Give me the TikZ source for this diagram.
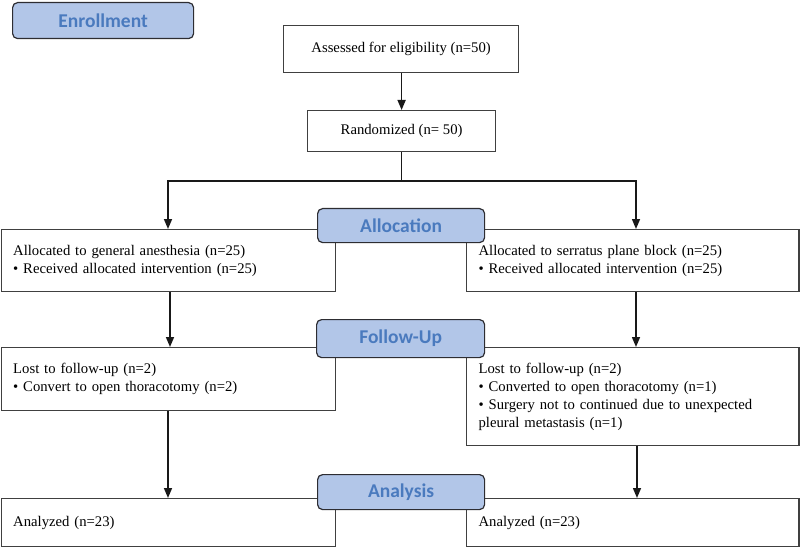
\documentclass[tikz,border=0pt]{standalone}
\usepackage{fontspec}
\setmainfont{Liberation Serif}
\newfontfamily\labelfont{Carlito}
\usetikzlibrary{arrows.meta}
\definecolor{boxline}{RGB}{64,64,64}
\definecolor{labfill}{RGB}{178,198,232}
\definecolor{labtext}{RGB}{74,122,190}
\definecolor{labline}{RGB}{45,45,50}
\begin{document}
\begin{tikzpicture}[x=1pt,y=-1pt,
  box/.style={draw=boxline, line width=1.2pt, fill=white, inner xsep=12pt, inner ysep=0pt,
    anchor=north west, align=left, font=\fontsize{14.7}{18}\selectfont},
  cbox/.style={draw=boxline, line width=1.2pt, fill=white, anchor=north west, align=center,
    inner sep=0pt, font=\fontsize{14.7}{18}\selectfont},
  lab/.style={draw=labline, line width=1.2pt, fill=labfill, rounded corners=5pt,
    anchor=north west, inner sep=0pt, text=labtext,
    font=\labelfont\bfseries\fontsize{19.5}{22}\selectfont},
  arr/.style={line width=1.5pt, draw=black!90, -{Triangle[width=8pt,length=10pt]}}]
\useasboundingbox (0,0) rectangle (800,548);

% boxes
\node[cbox, minimum width=235pt, minimum height=47pt] (assess) at (283,25) {Assessed for eligibility (n=50)};
\node[cbox, minimum width=188pt, minimum height=41pt] (rand) at (307,110) {Randomized (n= 50)};

\node[box, text width=310pt, minimum height=62pt] (allocL) at (0.6,229)
  {Allocated to general anesthesia (n=25)\\\textbullet\ Received allocated intervention (n=25)};
\node[box, text width=308.4pt, minimum height=62pt] (allocR) at (466,229)
  {Allocated to serratus plane block (n=25)\\\textbullet\ Received allocated intervention (n=25)};

\node[box, text width=310pt, minimum height=63pt] (followL) at (0.6,347)
  {Lost to follow-up (n=2)\\\textbullet\ Convert to open thoracotomy (n=2)};
\node[box, text width=308.4pt, minimum height=98pt] (followR) at (466,347)
  {Lost to follow-up (n=2)\\\textbullet\ Converted to open thoracotomy (n=1)\\\textbullet\ Surgery not to continued due to unexpected\\pleural metastasis (n=1)};

\node[box, text width=310pt, minimum height=48pt] (anaL) at (0.6,498) {Analyzed (n=23)};
\node[box, text width=308.4pt, minimum height=48pt] (anaR) at (466,498) {Analyzed (n=23)};

% connectors
\coordinate (hL) at (168,181);
\coordinate (hR) at (636,181);
\coordinate (cL) at (170,0);
\coordinate (cR) at (636,0);
\coordinate (dL) at (168,0);
\coordinate (dR) at (637,0);

\draw[arr] (rand.north |- assess.south) -- (rand.north);
\draw[arr] (rand.south) |- (hL) -- (hL |- allocL.north);
\draw[arr] (rand.south |- hL) -- (hR) -- (hR |- allocR.north);
\draw[arr] (allocL.south -| cL) -- (followL.north -| cL);
\draw[arr] (allocR.south -| cR) -- (followR.north -| cR);
\draw[arr] (followL.south -| dL) -- (anaL.north -| dL);
\draw[arr] (followR.south -| dR) -- (anaR.north -| dR);

% section labels
\node[lab, minimum width=181pt, minimum height=36pt] (enroll) at (12,2) {Enrollment};
\node[lab, minimum width=167pt, minimum height=34pt] (allocLab) at (317,208) {Allocation};
\node[lab, minimum width=168pt, minimum height=38pt] (followLab) at (316,319) {Follow-Up};
\node[lab, minimum width=167pt, minimum height=35pt] (anaLab) at (317,474) {Analysis};
\end{tikzpicture}
\end{document}
